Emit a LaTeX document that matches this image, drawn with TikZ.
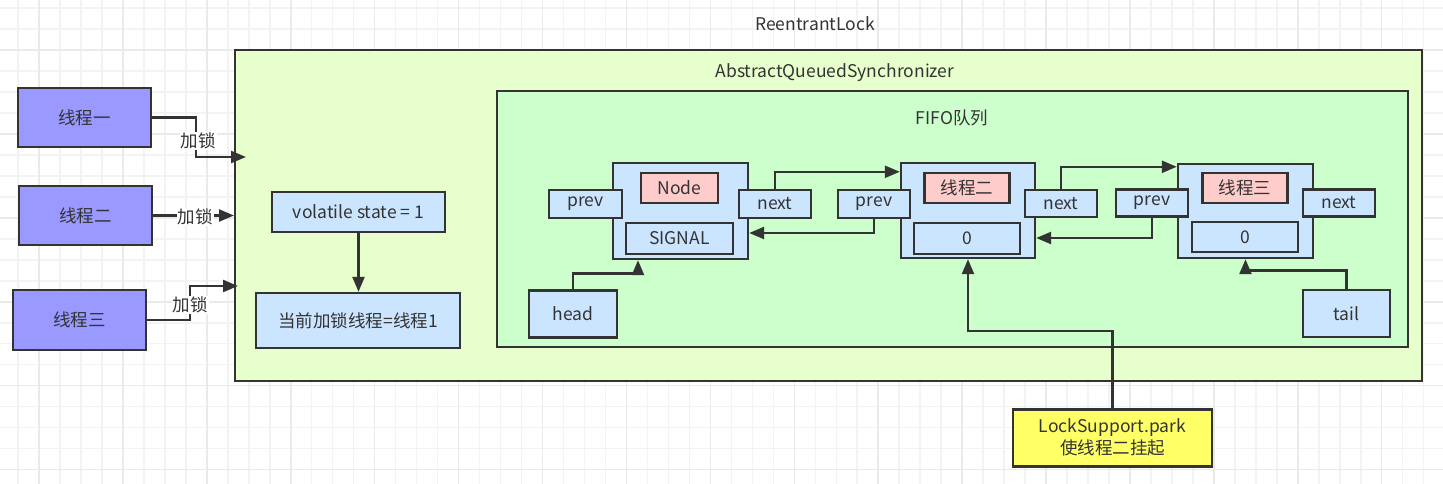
\documentclass[tikz,border=0pt]{standalone}
\usepackage{fontspec}
\setmainfont{Noto Sans CJK SC}
\usetikzlibrary{arrows.meta}
\definecolor{ln}{HTML}{333333}
\definecolor{aqsfill}{HTML}{E6FFCC}
\definecolor{fifofill}{HTML}{CCFFCC}
\definecolor{thr}{HTML}{9999FF}
\definecolor{blu}{HTML}{CCE5FF}
\definecolor{pink}{HTML}{FFCCCC}
\definecolor{yel}{HTML}{FFFF66}
\definecolor{gminor}{HTML}{F3F3F3}
\definecolor{gmajor}{HTML}{EAEAEA}
\tikzset{
  box/.style={draw=ln, line width=2.4pt, text=ln, inner sep=0pt, align=center},
  arr/.style={draw=ln, line width=2.4pt, -{Triangle[length=15pt,width=12pt]}},
  lbl/.style={fill=white, inner sep=1pt, text=ln},
}
\begin{document}
\begin{tikzpicture}[x=1pt,y=-1pt,font=\fontsize{17.5}{22}\selectfont]
\useasboundingbox (0,0) rectangle (1443,484);
\fill[white] (0,0) rectangle (1443,484);
% grid
\foreach \k in {0,...,68} {\draw[gminor, line width=1.5pt] ({18.02+20.98*\k},0) -- ({18.02+20.98*\k},484);}
\foreach \k in {0,...,22} {\draw[gminor, line width=1.5pt] (0,{8.06+20.98*\k}) -- (1443,{8.06+20.98*\k});}
\foreach \k in {0,...,17} {\draw[gmajor, line width=1.5pt] ({39+83.92*\k},0) -- ({39+83.92*\k},484);}
\foreach \k in {0,...,5} {\draw[gmajor, line width=1.5pt] (0,{50.02+83.92*\k}) -- (1443,{50.02+83.92*\k});}

\node[text=ln] (title) at (815,24) {ReentrantLock};

% containers
\node[box, fill=aqsfill, minimum width=1187pt, minimum height=331pt] (aqs) at (828.5,215.5) {};
\node[text=ln] (aqst) at (835,73) {AbstractQueuedSynchronizer};
\node[box, fill=fifofill, minimum width=911pt, minimum height=256pt] (fifo) at (952.5,219) {};
\node[text=ln] (fifot) at (952,118) {FIFO队列};

% threads
\node[box, fill=thr, minimum width=133pt, minimum height=59pt] (t1) at (84.5,117.5) {线程一};
\node[box, fill=thr, minimum width=133pt, minimum height=59pt] (t2) at (85.5,215.5) {线程二};
\node[box, fill=thr, minimum width=133pt, minimum height=60pt] (t3) at (79.5,320) {线程三};

% state
\node[box, fill=blu, minimum width=173pt, minimum height=40pt] (vs) at (358.5,212) {volatile state = 1};
\node[box, fill=blu, minimum width=204pt, minimum height=55pt] (cur) at (358,320.5) {当前加锁线程=线程1};

% node 1
\node[box, fill=blu, minimum width=135pt, minimum height=96pt] (n1) at (680.5,211) {};
\node[box, fill=pink, minimum width=77pt, minimum height=30pt] (n1t) at (679.5,188) {Node};
\node[box, fill=blu, minimum width=107pt, minimum height=31pt] (n1s) at (679.5,238.5) {SIGNAL};
\node[box, fill=blu, minimum width=73pt, minimum height=28pt] (p1) at (585.5,204) {prev};
\node[box, fill=blu, minimum width=72pt, minimum height=28pt] (x1) at (775,204) {next};

% node 2
\node[box, fill=blu, minimum width=134pt, minimum height=95pt] (n2) at (968,210.5) {};
\node[box, fill=pink, minimum width=85pt, minimum height=30pt] (n2t) at (967,188) {线程二};
\node[box, fill=blu, minimum width=106pt, minimum height=31pt] (n2s) at (967,238.5) {0};
\node[box, fill=blu, minimum width=72pt, minimum height=28pt] (p2) at (874,204) {prev};
\node[box, fill=blu, minimum width=72pt, minimum height=27pt] (x2) at (1061,203.5) {next};

% node 3
\node[box, fill=blu, minimum width=135pt, minimum height=94pt] (n3) at (1245.5,211) {};
\node[box, fill=pink, minimum width=85pt, minimum height=30pt] (n3t) at (1245,188) {线程三};
\node[box, fill=blu, minimum width=106pt, minimum height=30pt] (n3s) at (1245,237) {0};
\node[box, fill=blu, minimum width=72pt, minimum height=27pt] (p3) at (1152,203) {prev};
\node[box, fill=blu, minimum width=72pt, minimum height=27pt] (x3) at (1339,203) {next};

\node[box, fill=blu, minimum width=88pt, minimum height=47pt] (head) at (573,314) {head};
\node[box, fill=blu, minimum width=87pt, minimum height=47pt] (tail) at (1346.5,313.3) {tail};

\node[box, fill=yel, minimum width=199pt, minimum height=57pt] (lock) at (1112.5,437.8) {LockSupport.park\\使线程二挂起};

% connectors: threads
\coordinate (a1) at (246,157);
\coordinate (a2) at (234,215.5);
\coordinate (a3) at (238,286);
\draw[arr] (t1.east) -| (196,157) -- (a1);
\node[lbl] (l1) at (198,141) {加锁};
\draw[arr] (t2.east) -- (a2);
\node[lbl] (l2) at (195,217) {加锁};
\draw[arr] (t3.east) -| (190,286) -- (a3);
\node[lbl] (l3) at (190,305) {加锁};

\draw[arr] (vs.south) -- (vs.south |- cur.north);

% list links
\draw[arr] (x1.north) |- ([yshift=-10pt]n2.north west);
\draw[arr] (p2.south) |- ([yshift=-22pt]n1.east);
\draw[arr] (x2.north) |- ([yshift=-4pt]n3.north west);
\draw[arr] (p3.south) |- ([yshift=-27.5pt]n2.east);
\draw[arr] (head.north) -- ++(0,-16) -| ([xshift=-42.5pt]n1.south);
\draw[arr] (tail.north) -- ++(0,-18) -| (n3.south);
\draw[arr] (lock.north) -- ++(0,-77) -| (n2.south);
\end{tikzpicture}
\end{document}
